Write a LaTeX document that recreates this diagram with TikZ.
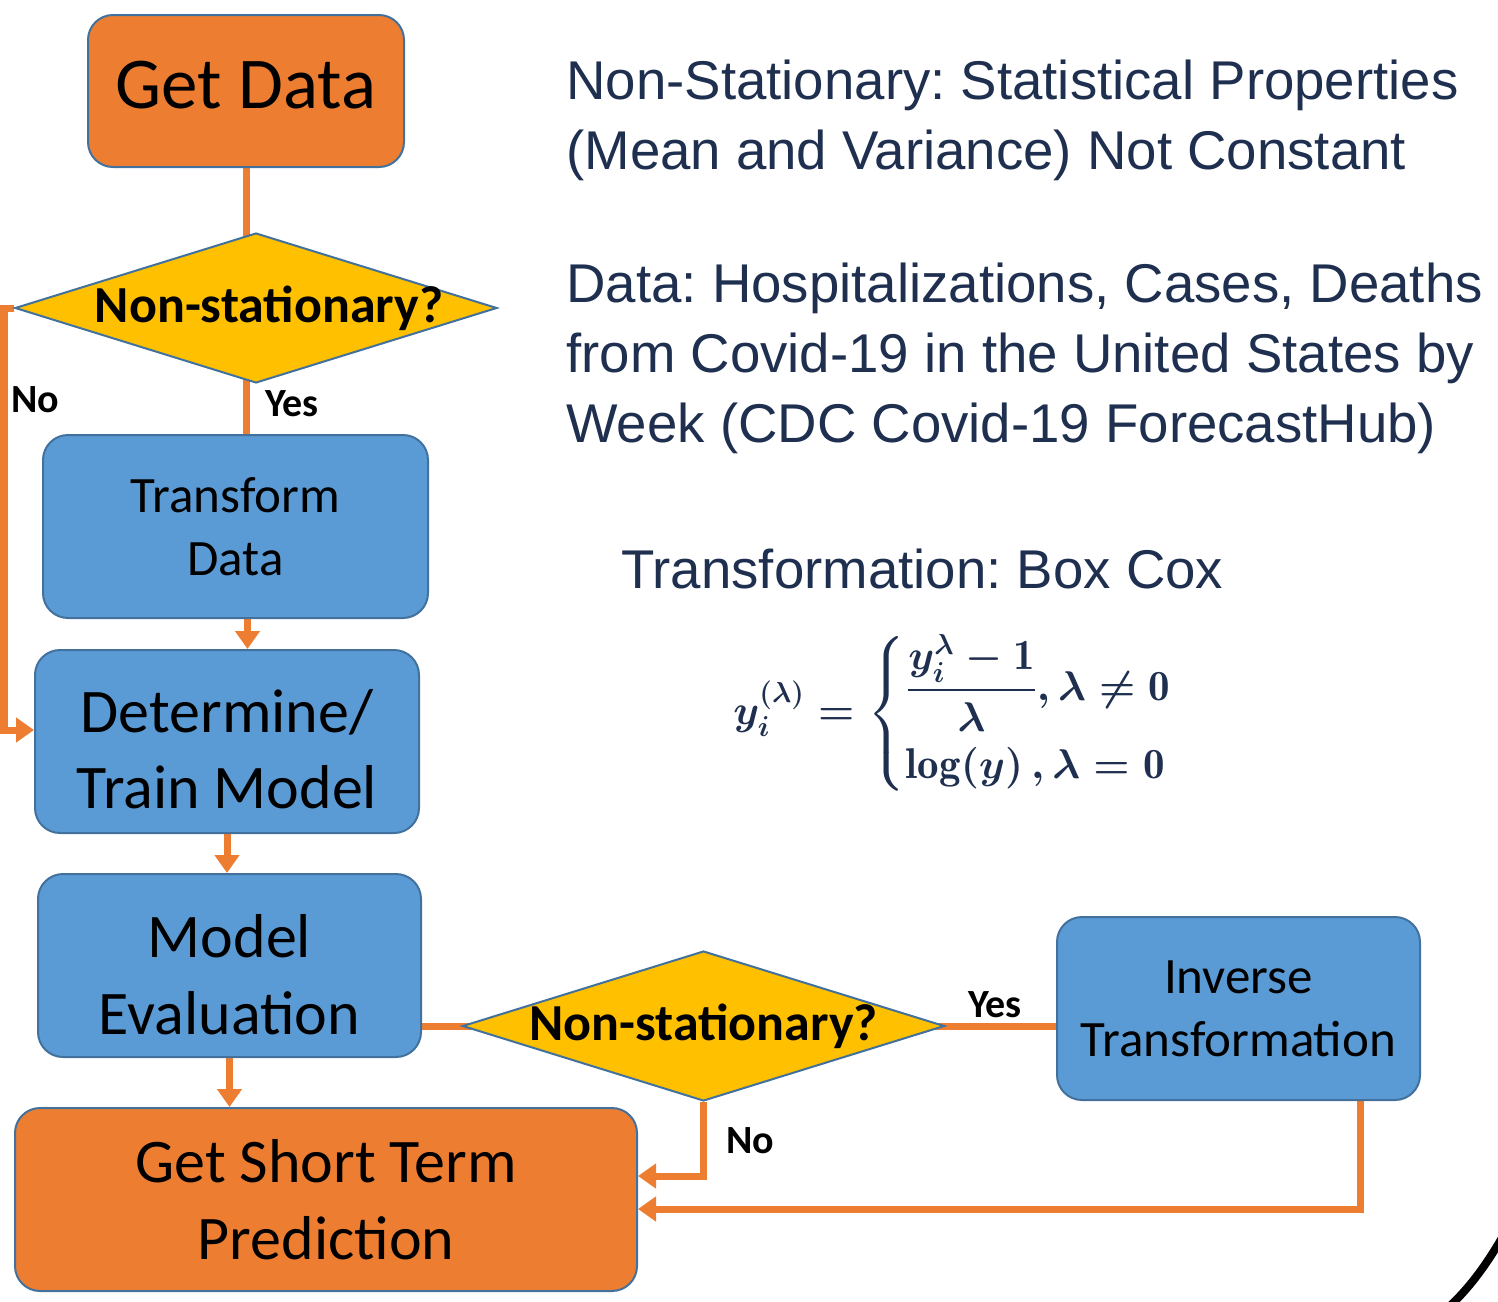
\documentclass[tikz,border=0pt]{standalone}
\usepackage{amsmath,amssymb}
\usepackage[no-math]{fontspec}
\setmainfont{Carlito}
\newfontfamily\notefont{Liberation Sans}
\usetikzlibrary{shapes.geometric,arrows.meta,backgrounds}
\definecolor{boxorange}{HTML}{ED7D31}
\definecolor{boxblue}{HTML}{5B9BD5}
\definecolor{boxline}{HTML}{41719C}
\definecolor{boxyellow}{HTML}{FFC000}
\definecolor{notetext}{HTML}{1F2F4F}
\newsavebox{\formulabox}
\newcommand{\bnum}[1]{\text{\fontfamily{lmr}\bfseries #1}}
% move a line of box text without changing the box
\newcommand{\nudge}[2]{\raisebox{#1}[\height][\depth]{#2}}

\begin{document}
\frenchspacing
\sbox{\formulabox}{\fontsize{21.5}{26}\selectfont\color{notetext}\boldmath$y_i^{(\lambda)} = \left\{\begin{array}{@{}l@{}} \dfrac{y_i^{\lambda}-\bnum{1}}{\lambda}, \lambda \neq \bnum{0}\\[13pt] \bnum{log}(y)\,, \lambda = \bnum{0} \end{array}\right.$}
\begin{tikzpicture}[x=0.5pt,y=-0.5pt,
    step_box/.style={rectangle,rounded corners=12.5pt,draw=boxline,line width=1pt,align=center,inner sep=0pt},
    blue_box/.style={step_box,fill=boxblue},
    orange_box/.style={step_box,fill=boxorange},
    decision/.style={diamond,draw=boxline,line width=1pt,fill=boxyellow,inner sep=0pt,minimum width=241pt,minimum height=75pt,font=\fontsize{26}{30}\selectfont\bfseries},
    flow/.style={draw=boxorange,line width=3.5pt},
    arrow/.style={flow,-{Triangle[length=9pt,width=12pt]}},
    answer/.style={font=\fontsize{20}{24}\selectfont\bfseries,inner sep=0pt},
    note/.style={font=\notefont\fontsize{27.3}{35}\selectfont,text=notetext,align=left,anchor=north west,inner sep=0pt}]
    \useasboundingbox (0,0) rectangle (1498,1301);

    \node[orange_box,minimum width=158pt,minimum height=76pt,font=\fontsize{36.5}{44}\selectfont] (getdata) at (246,91) {\nudge{3pt}{Get Data}};
    \node[decision] (dia1) at (256,308) {\makebox[0pt]{\hspace*{13pt}Non-stationary?}};
    \node[blue_box,minimum width=192.5pt,minimum height=91.5pt,font=\fontsize{25.5}{31.5}\selectfont] (transform) at (235.5,526.5) {Transform\\Data};
    \node[blue_box,minimum width=192pt,minimum height=91.5pt,font=\fontsize{31}{38}\selectfont] (determine) at (227,741.5) {\nudge{-4pt}{Determine/}\\\nudge{-4pt}{Train Model}};
    \node[blue_box,minimum width=191.5pt,minimum height=91.5pt,font=\fontsize{31}{38.5}\selectfont] (evaluation) at (229.5,965.5) {\nudge{-4.5pt}{Model}\\\nudge{-4.5pt}{Evaluation}};
    \node[orange_box,minimum width=311pt,minimum height=91.5pt,font=\fontsize{31}{38.5}\selectfont] (prediction) at (326,1199.5) {Get Short Term\\Prediction};
    \node[decision] (dia2) at (703.5,1026) {\makebox[0pt]{Non-stationary?}};
    \node[blue_box,minimum width=181.5pt,minimum height=91.5pt,font=\fontsize{25.5}{31.5}\selectfont] (inverse) at (1238.5,1008.5) {Inverse\\Transformation};

    \node[answer] (yes1) at (292,404) {Yes};
    \node[answer] (no1) at (35,400) {No};
    \node[answer] (yes2) at (995,1005) {Yes};
    \node[answer] (no2) at (750,1141) {No};

    \node[note] (nonstat) at (566,60) {Non-Stationary: Statistical Properties\\(Mean and Variance) Not Constant};
    \node[note] (source) at (566,263) {Data: Hospitalizations, Cases, Deaths\\from Covid-19 in the United States by\\Week (CDC Covid-19 ForecastHub)};
    \node[note] (boxcox) at (621,549) {Transformation: Box Cox};
    \node[inner sep=0pt] (formula) at (953,714) {\usebox{\formulabox}};

    \begin{pgfonlayer}{background}
    \draw[flow] (getdata.south) -- (getdata.south |- transform.north);
    \draw[arrow] (dia1.west) -- ++(-10,0) |- ([yshift=5.75pt]determine.west);
    \draw[arrow] ([xshift=6pt]transform.south) -- ([xshift=6pt]transform.south |- determine.north);
    \draw[arrow] (determine.south) -- (determine.south |- evaluation.north);
    \draw[arrow] (evaluation.south) -- (evaluation.south |- prediction.north);
    \draw[flow] (evaluation.east |- dia2) -- (dia2 -| inverse.west);
    \draw[arrow] (dia2.south) |- ([yshift=11.75pt]prediction.east);
    \draw[arrow] ([xshift=60.75pt]inverse.south) |- ([yshift=-4.75pt]prediction.east);
    \end{pgfonlayer}

    % edge of the slide frame
    \draw[line width=4pt] (1450,1306) .. controls (1472,1285) and (1488,1262) .. (1503,1236);
\end{tikzpicture}
\end{document}
